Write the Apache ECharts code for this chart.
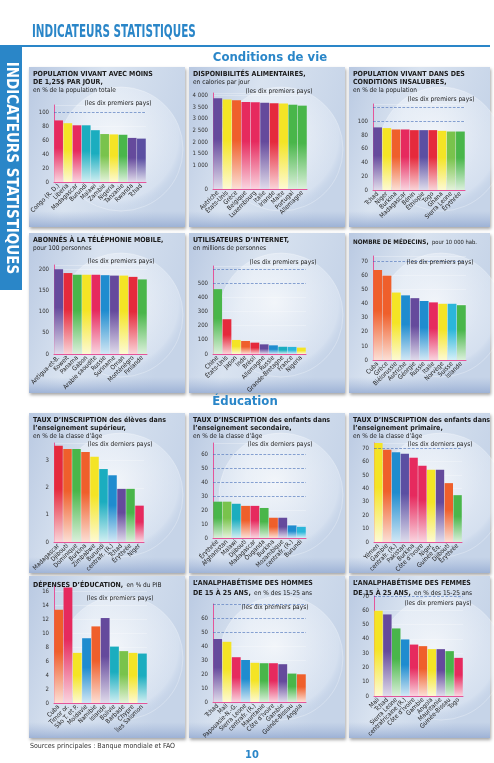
<!DOCTYPE html>
<html>
<head>
<meta charset="utf-8">
<script src="https://cdn.jsdelivr.net/npm/echarts@6/dist/echarts.min.js"></script>
<style>
  html, body { margin: 0; padding: 0; background: #fff; }
  #chart { width: 494px; height: 763px; }
</style>
</head>
<body>
<div id="chart"></div>
<script>
const pauvreteCats = ['Congo (R. D.)', 'Liberia', 'Madagascar', 'Burundi', 'Malawi', 'Zambie', 'Nigeria', 'Tanzanie', 'Rwanda', 'Tchad']
const pauvreteVals = [88, 84, 81, 81, 74, 68.5, 68, 67.5, 63, 62]

const caloriesCats = ['Autriche', 'États-Unis', 'Grèce', 'Belgique', 'Luxembourg', 'Italie', 'Irlande', 'Malte', 'Portugal', 'Allemagne']
const caloriesVals = [3880, 3820, 3790, 3720, 3700, 3680, 3660, 3650, 3600, 3560]

const insalubresCats = ['Tchad', 'Niger', 'Burkina', 'Madagascar', 'Bénin', 'Éthiopie', 'Togo', 'Ghana', 'Sierra Leone', 'Érythrée']
const insalubresVals = [91, 90, 88, 88, 87, 87, 87, 86, 85, 85]

const mobileCats = ['Antigua-et-B.', 'Koweït', 'Panama', 'Gabon', 'Arabie saoudite', 'Russie', 'Suriname', 'Oman', 'Monténégro', 'Finlande']
const mobileVals = [200, 191, 187, 187, 187, 186, 185, 185, 182, 176]

const internetCats = ['Chine', 'États-Unis', 'Japon', 'Inde', 'Brésil', 'Allemagne', 'Russie', 'Grande-Bretagne', 'France', 'Nigeria']
const internetVals = [457, 245, 99, 92, 80, 68, 61, 51, 50, 45]

const medecinsCats = ['Cuba', 'Grèce', 'Biélorussie', 'Autriche', 'Géorgie', 'Russie', 'Italie', 'Norvège', 'Suisse', 'Islande']
const medecinsVals = [64, 60, 48, 46, 44, 42, 41, 40, 40, 39]

const superieurCats = ['Madagascar', 'Djibouti', 'Dominique', 'Burkina', 'Zimbabwe', 'Burundi', 'centrafr. (R.)', 'Tchad', 'Érythrée', 'Niger']
const superieurVals = [3.55, 3.43, 3.43, 3.32, 3.14, 2.69, 2.46, 1.96, 1.96, 1.34]

const secondaireCats = ['Érythrée', 'Afghanistan', 'Malawi', 'Djibouti', 'Madagascar', 'Ouganda', 'Burkina', 'Mozambique', 'centrafr. (R.)', 'Burundi']
const secondaireVals = [26, 26, 24.5, 23, 23, 21.5, 14.5, 14.5, 9, 8]

const primaireCats = ['Yémen', 'Gambie', 'centrafr. (R.)', 'Pakistan', 'Burkina', 'Côte d’Ivoire', 'Niger', 'Guinée Éq.', 'Djibouti', 'Érythrée']
const primaireVals = [74, 69, 67, 66, 63, 57, 54, 54, 44, 35]

const depensesCats = ['Cuba', 'Timor or.', 'São T. et P.', 'Moldavie', 'Namibie', 'Islande', 'Bolivie', 'Barbade', 'Chypre', 'Îles Salomon']
const depensesVals = [13.4, 16.6, 7.2, 9.3, 11.0, 12.2, 8.1, 7.45, 7.2, 7.1]

const hommesCats = ['Tchad', 'Mali', 'Papouasie-N.-G.', 'Sierra Leone', 'centrafr. (R.)', 'Mauritanie', 'Côte d’Ivoire', 'Gambie', 'Guinée-Bissau', 'Angola']
const hommesVals = [45, 43, 32, 30, 28, 27.7, 27.7, 27, 20.3, 19.8]

const femmesCats = ['Mali', 'Tchad', 'Sierra Leone', 'centrafricaine (R.)', 'Côte d’Ivoire', 'Gambie', 'Angola', 'Mauritanie', 'Guinée-Bissau', 'Togo']
const femmesVals = [59.7, 57.1, 47.3, 39.6, 36, 34.9, 32.8, 32.8, 31.4, 26.7]

// --- couleurs ---
const C = {
  rose: '#e62a5e', rouge: '#e52a3c', jaune: '#f4e425', orange: '#ef5f2b',
  vert: '#49b64a', vertc: '#79c34c', turq: '#1badbf', bleu: '#1f8ccf',
  cyan: '#2bb6da', violet: '#654a9c', mauve: '#5b4fa2'
}
const pauvreteCols = [C.rose, C.jaune, C.rose, C.turq, C.turq, C.vertc, C.jaune, C.vert, C.violet, C.mauve]
const caloriesCols = [C.violet, C.jaune, C.orange, C.rose, C.rose, C.violet, C.rouge, C.jaune, C.vert, C.vert]
const insalubresCols = [C.violet, C.jaune, C.orange, C.rose, C.rouge, C.mauve, C.rouge, C.jaune, C.vertc, C.vert]
const mobileCols = [C.violet, C.rouge, C.vert, C.jaune, C.rose, C.bleu, C.violet, C.jaune, C.rouge, C.vert]
const internetCols = [C.vert, C.rouge, C.jaune, C.orange, C.rouge, C.violet, C.bleu, C.turq, C.cyan, C.jaune]
const medecinsCols = [C.orange, C.orange, C.jaune, C.bleu, C.violet, C.bleu, C.rose, C.jaune, C.cyan, C.vert]
const superieurCols = [C.rouge, C.orange, C.vert, C.orange, C.jaune, C.turq, C.bleu, C.violet, C.vert, C.rose]
const secondaireCols = [C.vert, C.vertc, C.turq, C.orange, C.rose, C.vert, C.orange, C.violet, C.bleu, C.cyan]
const primaireCols = [C.jaune, C.orange, C.bleu, C.mauve, C.rose, C.rose, C.jaune, C.violet, C.orange, C.vert]
const depensesCols = [C.orange, C.rose, C.jaune, C.bleu, C.orange, C.violet, C.turq, C.vertc, C.jaune, C.turq]
const hommesCols = [C.violet, C.jaune, C.rose, C.bleu, C.jaune, C.vert, C.rose, C.violet, C.vert, C.orange]
const femmesCols = [C.jaune, C.violet, C.vert, C.bleu, C.rose, C.orange, C.jaune, C.violet, C.vert, C.rose]

const FONT = '"Liberation Sans Narrow", "DejaVu Sans Condensed", "Liberation Sans", sans-serif'
const BLUE = '#2a86c8'
const AXIS = '#e4559a'

// colonnes et rangées des panneaux
const COLS = [[29, 156], [189, 156], [349, 141]]
const ROWS = [[67, 160], [233, 160], [413, 160], [576, 162]]
const box = (r, c) => [COLS[c][0], ROWS[r][0], COLS[c][1], ROWS[r][1]]

const panels = [
  { cats: pauvreteCats, vals: pauvreteVals, cols: pauvreteCols, box: box(0, 0), grid: [54, 105, 92, 77], max: 110, step: 20, dashed: [100], labelMax: 100,
    title: '{b|POPULATION VIVANT AVEC MOINS}\n{b|DE 1,25$ PAR JOUR,}\n{n|en % de la population totale}', note: '(les dix premiers pays)', noteAt: [118, 103] },
  { cats: caloriesCats, vals: caloriesVals, cols: caloriesCols, box: box(0, 1), grid: [213, 93, 94, 96], max: 4100, step: 500, dashed: [], labelMax: 4000,
    title: '{b|DISPONIBILITÉS ALIMENTAIRES,}\n{n|en calories par jour}', note: '(les dix premiers pays)', noteAt: [279, 91], hide500: true },
  { cats: insalubresCats, vals: insalubresVals, cols: insalubresCols, box: box(0, 2), grid: [373, 104, 92, 86], max: 125, step: 20, dashed: [100, 120], labelMax: 100,
    title: '{b|POPULATION VIVANT DANS DES}\n{b|CONDITIONS INSALUBRES,}\n{n|en % de la population}', note: '(les dix premiers pays)', noteAt: [441, 99] },

  { cats: mobileCats, vals: mobileVals, cols: mobileCols, box: box(1, 0), grid: [54, 265, 93, 89], max: 210, step: 50, dashed: [], labelMax: 200,
    title: '{b|ABONNÉS À LA TÉLÉPHONIE MOBILE,}\n{n|pour 100 personnes}', note: '(les dix premiers pays)', noteAt: [121, 261] },
  { cats: internetCats, vals: internetVals, cols: internetCols, box: box(1, 1), grid: [213, 266, 93, 88], max: 620, step: 100, dashed: [500, 600], labelMax: 500,
    title: '{b|UTILISATEURS D’INTERNET,}\n{n|en millions de personnes}', note: '(les dix premiers pays)', noteAt: [283, 262] },
  { cats: medecinsCats, vals: medecinsVals, cols: medecinsCols, box: box(1, 2), grid: [373, 256, 93, 104], max: 74, step: 10, dashed: [70], labelMax: 70, small: true,
    title: '{b|NOMBRE DE MÉDECINS,} {n|pour 10 000 hab.}', note: '(les dix premiers pays)', noteAt: [440, 262] },

  { cats: superieurCats, vals: superieurVals, cols: superieurCols, box: box(2, 0), grid: [54, 443, 90, 99], max: 3.65, step: 1, dashed: [], labelMax: 3,
    title: '{b|TAUX D’INSCRIPTION des élèves dans}\n{b|l’enseignement supérieur,}\n{n|en % de la classe d’âge}', note: '(les dix derniers pays)', noteAt: [120, 444] },
  { cats: secondaireCats, vals: secondaireVals, cols: secondaireCols, box: box(2, 1), grid: [213, 443, 93, 95], max: 68, step: 10, dashed: [30, 40, 50, 60], labelMax: 60,
    title: '{b|TAUX D’INSCRIPTION des enfants dans}\n{b|l’enseignement secondaire,}\n{n|en % de la classe d’âge}', note: '(les dix derniers pays)', noteAt: [280, 444] },
  { cats: primaireCats, vals: primaireVals, cols: primaireCols, box: box(2, 2), grid: [374, 443, 88, 99], max: 74, step: 10, dashed: [70], labelMax: 70,
    title: '{b|TAUX D’INSCRIPTION des enfants dans}\n{b|l’enseignement primaire,}\n{n|en % de la classe d’âge}', note: '(les dix derniers pays)', noteAt: [440, 444] },

  { cats: depensesCats, vals: depensesVals, cols: depensesCols, box: box(3, 0), grid: [54, 586, 93, 117], max: 16.8, step: 2, dashed: [], labelMax: 16,
    title: '{b|DÉPENSES D’ÉDUCATION,} {n|en % du PIB}', note: '(les dix premiers pays)', noteAt: [120, 598] },
  { cats: hommesCats, vals: hommesVals, cols: hommesCols, box: box(3, 1), grid: [213, 604, 93, 98], max: 70, step: 10, dashed: [50, 60, 70], labelMax: 60,
    title: '{b|L’ANALPHABÉTISME DES HOMMES}\n{b|DE 15 À 25 ANS,} {n|en % des 15-25 ans}', note: '(les dix premiers pays)', noteAt: [275, 607] },
  { cats: femmesCats, vals: femmesVals, cols: femmesCols, box: box(3, 2), grid: [374, 596, 89, 100], max: 70, step: 10, dashed: [70], labelMax: 70,
    title: '{b|L’ANALPHABÉTISME DES FEMMES}\n{b|DE 15 À 25 ANS,} {n|en % des 15-25 ans}', note: '(les dix premiers pays)', noteAt: [438, 603] }
]

const pale = (hex, t) => {
  const n = parseInt(hex.slice(1), 16)
  const mix = c => Math.round(c + (255 - c) * t)
  return `rgb(${mix(n >> 16)},${mix((n >> 8) & 255)},${mix(n & 255)})`
}
const barFill = c => new echarts.graphic.LinearGradient(0, 0, 0, 1, [
  { offset: 0, color: c }, { offset: 0.45, color: c }, { offset: 1, color: pale(c, 0.8) }
])
const thousands = v => String(v).replace(/\B(?=(\d{3})+(?!\d))/g, ' ')

const grids = [], xAxes = [], yAxes = [], series = [], graphics = []

// en-tête de page
graphics.push(
  { type: 'text', x: 32, y: 41, z: 20, scaleX: 0.68, style: { text: 'INDICATEURS STATISTIQUES', font: `bold 17px ${FONT}`, fill: BLUE, verticalAlign: 'bottom' } },
  { type: 'rect', z: 20, shape: { x: 0, y: 45, width: 490, height: 2 }, style: { fill: BLUE } },
  { type: 'rect', z: 20, shape: { x: 0, y: 45, width: 22, height: 245 }, style: { fill: BLUE } },
  { type: 'text', x: 11, y: 168, z: 21, rotation: -Math.PI / 2, style: { text: 'INDICATEURS STATISTIQUES', font: `bold 15px ${FONT}`, fill: '#fff', align: 'center', verticalAlign: 'middle' } },
  { type: 'text', x: 270, y: 58, z: 20, style: { text: 'Conditions de vie', font: `bold 13px ${FONT}`, fill: BLUE, align: 'center', verticalAlign: 'middle' } },
  { type: 'text', x: 245, y: 402, z: 20, style: { text: 'Éducation', font: `bold 13px ${FONT}`, fill: BLUE, align: 'center', verticalAlign: 'middle' } },
  { type: 'text', x: 30, y: 746, z: 20, style: { text: 'Sources principales : Banque mondiale et FAO', font: `7px ${FONT}`, fill: '#333', verticalAlign: 'middle' } },
  { type: 'text', x: 252, y: 755, z: 20, style: { text: '10', font: `bold 11px ${FONT}`, fill: BLUE, align: 'center', verticalAlign: 'middle' } }
)

panels.forEach((p, i) => {
  const [bx, by, bw, bh] = p.box
  const tb = p.small ? 6.3 : 7
  graphics.push(
    { type: 'rect', z: -20, shape: { x: bx, y: by, width: bw, height: bh },
      style: { fill: new echarts.graphic.LinearGradient(0, 0, 1, 0.3, [
        { offset: 0, color: '#b9c9e2' }, { offset: 0.45, color: '#d9e3f0' }, { offset: 1, color: '#c6d4e8' }
      ]), shadowBlur: 3, shadowColor: 'rgba(0,0,0,0.35)', shadowOffsetX: 1, shadowOffsetY: 2 } },
    { type: 'rect', z: -19, shape: { x: bx, y: by + bh - 16, width: bw, height: 16 },
      style: { fill: new echarts.graphic.LinearGradient(0, 0, 0, 1, [
        { offset: 0, color: 'rgba(160,180,215,0)' }, { offset: 1, color: 'rgba(150,172,210,0.85)' }
      ]) } },
    { type: 'circle', z: -18, shape: { cx: bx + 92, cy: by + 82, r: 62 },
      style: { fill: new echarts.graphic.RadialGradient(0.45, 0.4, 0.6, [
        { offset: 0, color: 'rgba(255,255,255,0.7)' }, { offset: 0.85, color: 'rgba(236,242,250,0.4)' }, { offset: 1, color: 'rgba(200,214,236,0)' }
      ]), stroke: 'rgba(255,255,255,0.35)', lineWidth: 0.8 } },
    { type: 'text', x: bx + 4, y: by + 3, z: 10,
      style: { text: p.title, verticalAlign: 'top', fill: '#1a1a1a',
        rich: {
          b: { fontFamily: FONT, fontWeight: 'bold', fontSize: tb, lineHeight: 8, fill: '#1a1a1a' },
          n: { fontFamily: FONT, fontSize: tb - 0.5, lineHeight: 8, fill: '#1a1a1a' }
        } } },
    { type: 'text', x: p.noteAt[0], y: p.noteAt[1], z: 10,
      style: { text: p.note, font: `6.5px ${FONT}`, fill: '#222', align: 'center', verticalAlign: 'middle' } }
  )

  const [gl, gt, gw, gh] = p.grid
  grids.push({ left: gl, top: gt, width: gw, height: gh, containLabel: false })
  xAxes.push({
    type: 'category', gridIndex: i, data: p.cats,
    axisLine: { show: true, lineStyle: { color: AXIS, width: 1 } },
    axisTick: { show: false },
    axisLabel: { interval: 0, rotate: 45, fontSize: 6.3, fontFamily: FONT, color: '#222', margin: 3 },
    splitLine: { show: false }
  })
  yAxes.push({
    type: 'value', gridIndex: i, min: 0, max: p.max, interval: p.step,
    axisLine: { show: true, lineStyle: { color: AXIS, width: 1 } },
    axisTick: { show: false },
    axisLabel: {
      fontSize: 6, fontFamily: FONT, color: '#333', margin: 5,
      showMaxLabel: p.labelMax === p.max,
      formatter: v => (v > p.labelMax || (p.hide500 && v === 500)) ? '' : thousands(v)
    },
    splitLine: { show: true, lineStyle: { color: 'rgba(255,255,255,0.45)', width: 0.6 } }
  })
  series.push({
    type: 'bar', xAxisIndex: i, yAxisIndex: i,
    barCategoryGap: '5%',
    data: p.vals.map((v, j) => ({ value: v, itemStyle: { color: barFill(p.cols[j]) } })),
    markLine: p.dashed.length ? {
      silent: true, symbol: ['none', 'none'], label: { show: false },
      lineStyle: { type: 'dashed', color: '#3d67b5', width: 0.7, opacity: 0.85 },
      data: p.dashed.map(v => ({ yAxis: v }))
    } : undefined
  })
})

const chart = echarts.init(document.getElementById('chart'), null, { renderer: 'canvas' })
chart.setOption({
  animation: false,
  backgroundColor: '#fff',
  grid: grids,
  xAxis: xAxes,
  yAxis: yAxes,
  series,
  graphic: { elements: graphics }
})
</script>
</body>
</html>
